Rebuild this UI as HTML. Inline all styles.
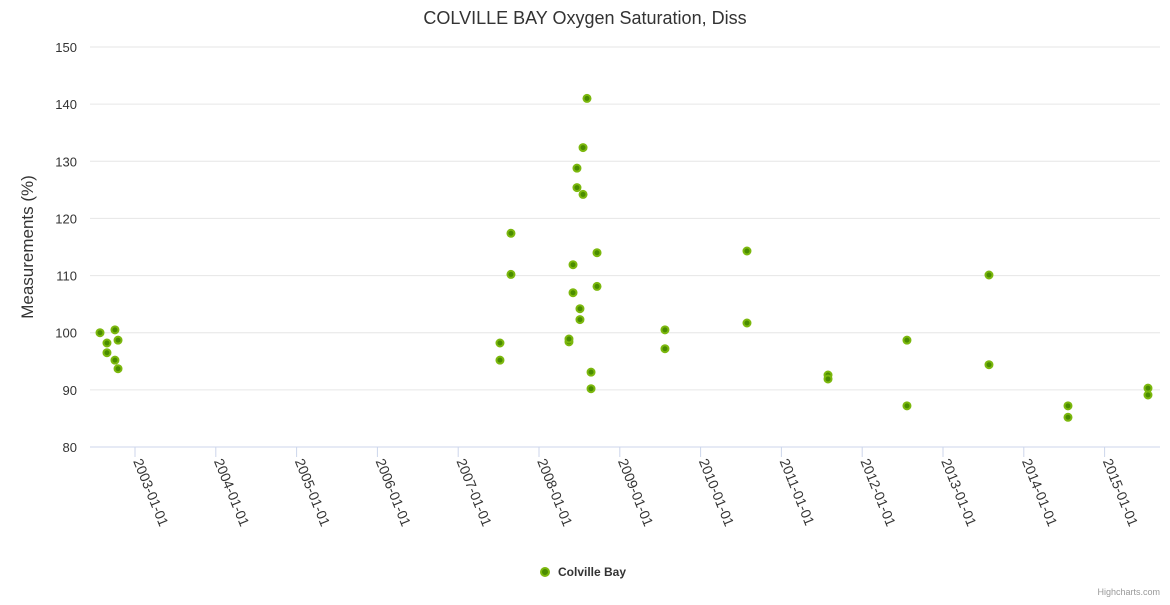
<!DOCTYPE html>
<html><head><meta charset="utf-8"><style>
body{margin:0;background:#fff;font-family:"Liberation Sans",sans-serif}
</style></head><body>
<svg id="c" width="1170" height="600" xmlns="http://www.w3.org/2000/svg" style="font-family:'Liberation Sans',sans-serif">
<text x="585" y="24" text-anchor="middle" font-size="18" fill="#333">COLVILLE BAY Oxygen Saturation, Diss</text>
<text transform="translate(33,247) rotate(-90)" text-anchor="middle" font-size="17" fill="#333">Measurements (%)</text>
<g id="grid"></g><g id="xt"></g><g id="pts"></g>
<g>
<circle cx="545" cy="572" r="4" fill="#4a8c00" stroke="#7cb80e" stroke-width="2"/>
<text x="558" y="576" font-size="12" font-weight="bold" fill="#333">Colville Bay</text></g>
<text x="1160" y="595" text-anchor="end" font-size="9" fill="#999">Highcharts.com</text>
</svg>
<script>
const xs=[2002.567,2002.653,2002.653,2002.752,2002.752,2002.79,2002.79,2007.517,2007.517,2007.653,2007.653,2008.371,2008.371,2008.421,2008.421,2008.470,2008.470,2008.507,2008.507,2008.545,2008.545,2008.594,2008.644,2008.644,2008.718,2008.718,2009.559,2009.559,2010.574,2010.574,2011.577,2011.577,2012.554,2012.554,2013.569,2013.569,2014.547,2014.547,2015.537,2015.537];
const ys=[100.0,98.2,96.5,100.5,95.2,98.7,93.7,98.2,95.2,117.4,110.2,98.4,98.9,111.9,107.0,128.8,125.4,104.2,102.3,132.4,124.2,141.0,93.1,90.2,114.0,108.1,100.5,97.2,114.3,101.7,92.6,91.9,98.7,87.2,110.1,94.4,87.2,85.2,90.3,89.1];
const yTicks=[80,90,100,110,120,130,140,150];
const xTicks=[2003,2004,2005,2006,2007,2008,2009,2010,2011,2012,2013,2014,2015];
const X=v=>135+(v-2003)*80.8, Y=v=>447-(v-80)*400/70;
const NS="http://www.w3.org/2000/svg";
function mk(t,a,p){const e=document.createElementNS(NS,t);for(const k in a)e.setAttribute(k,a[k]);p.appendChild(e);return e;}
const g=document.getElementById('grid');
yTicks.forEach(v=>{
 const l=mk('line',{x1:90,x2:1160,y1:Y(v),y2:Y(v),stroke:v===80?'#ccd6eb':'#e6e6e6'},g);
 
 
 const t=mk('text',{x:77,y:Y(v)+5,'text-anchor':'end','font-size':13,fill:'#333'},g);t.textContent=v;
 
 
});
const xt=document.getElementById('xt');
xTicks.forEach(v=>{
 const x=X(v);
 const l=mk('line',{x1:x,x2:x,y1:447,y2:457,stroke:'#ccd6eb'},xt);
 
 
 const t=mk('text',{transform:`translate(${x-2},${461}) rotate(68)`,'font-size':14,fill:'#333'},xt);t.textContent=v+'-01-01';
 
 
});
const p=document.getElementById('pts');
xs.forEach((v,i)=>{
 const c=mk('circle',{cx:X(v),cy:Y(ys[i]),r:3.5,fill:'#4a8c00',stroke:'#7cb80e','stroke-width':2},p);
 
 
});
</script>
</body></html>
